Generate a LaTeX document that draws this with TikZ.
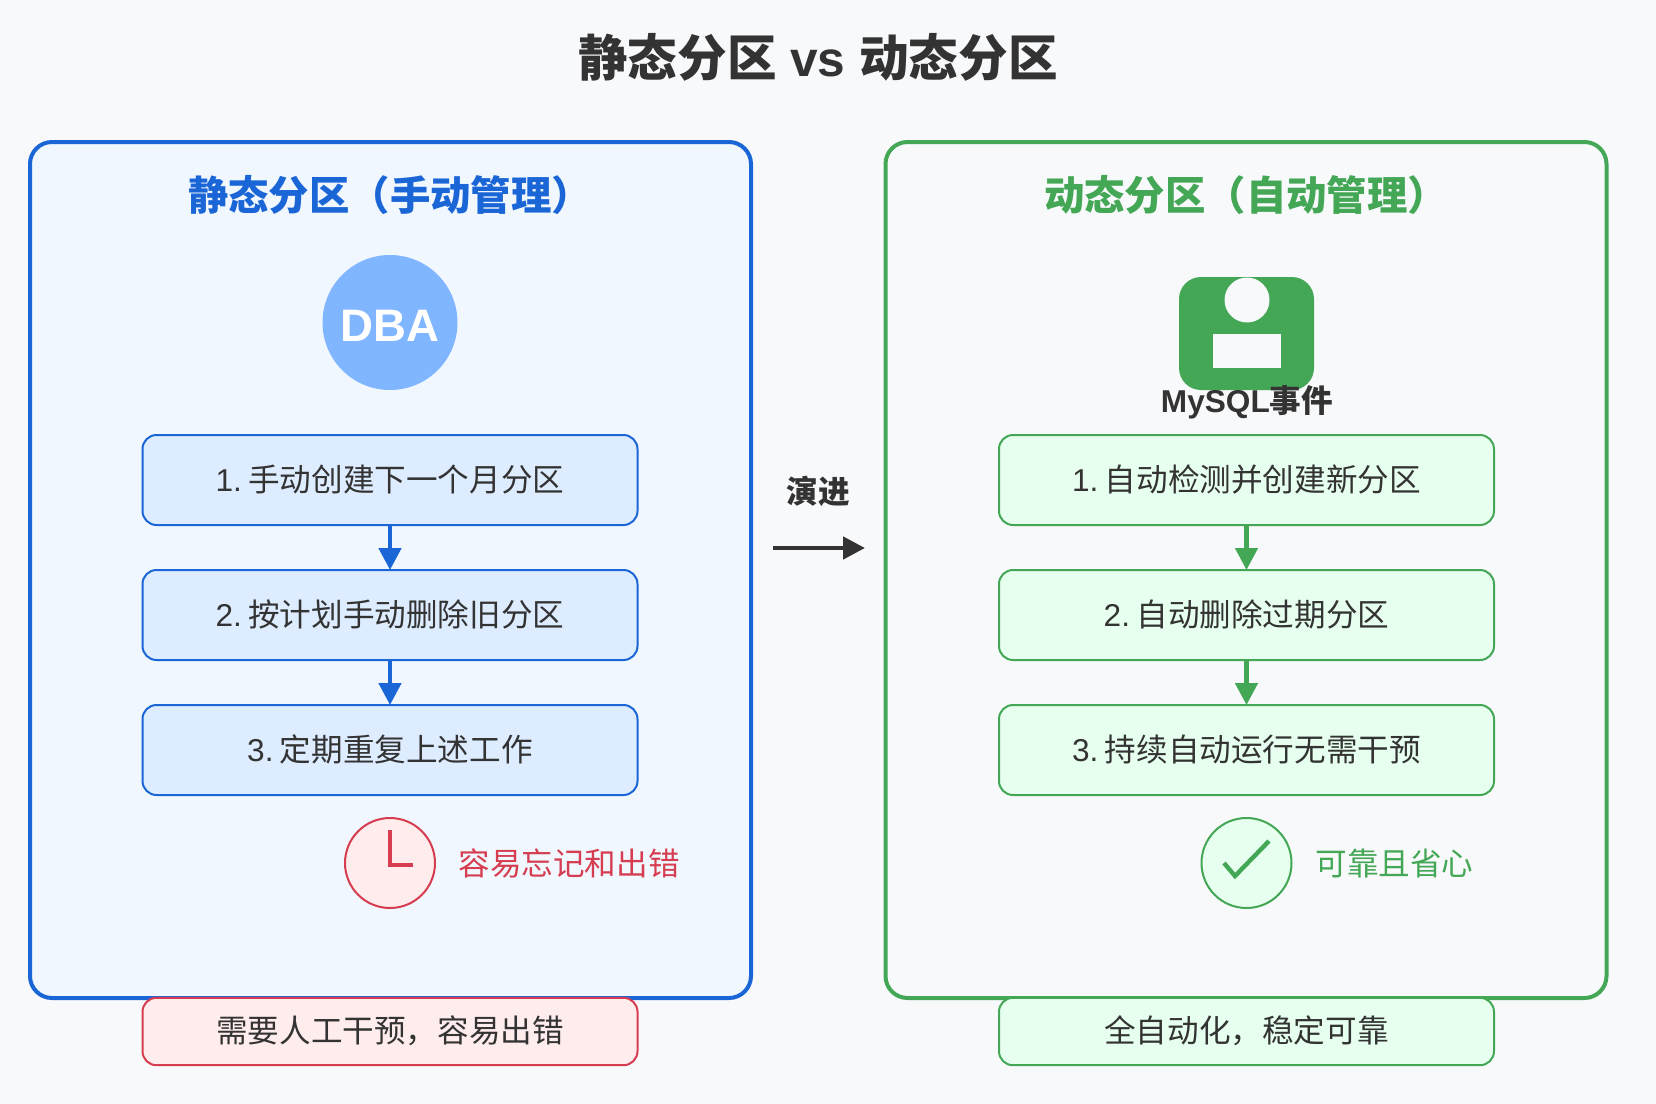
\documentclass[tikz,border=0pt]{standalone}
\usepackage{fontspec}
\usetikzlibrary{arrows.meta}
\setmainfont{Liberation Sans}
\newfontfamily\cjk{Noto Sans CJK SC}
\newcommand{\cj}[1]{{\cjk #1}}
\newcommand{\stepno}[1]{#1.\kern3.2pt}
\definecolor{bgc}{HTML}{F8F9FB}
\definecolor{blu}{HTML}{1B66D6}
\definecolor{blufill}{HTML}{F0F7FF}
\definecolor{bluebox}{HTML}{DDECFF}
\definecolor{dbac}{HTML}{80B5FF}
\definecolor{grn}{HTML}{43A755}
\definecolor{grnfill}{HTML}{E6FFEE}
\definecolor{redc}{HTML}{D63D50}
\definecolor{redfill}{HTML}{FFECEC}
\definecolor{txt}{HTML}{333333}
\tikzset{
  x=0.5pt,y=-0.5pt,
  panel/.style={draw=#1,line width=2pt,rounded corners=11pt,minimum width=360.5pt,minimum height=428pt,inner sep=0pt},
  pbox/.style n args={2}{draw=#1,fill=#2,line width=1pt,rounded corners=7pt,minimum width=247.5pt,inner sep=0pt,outer sep=0pt,text=txt,text height=13.7pt,text depth=2.3pt,font=\fontsize{15.8}{18}\selectfont},
  stepbox/.style n args={2}{pbox={#1}{#2},minimum height=45pt},
  notebox/.style n args={2}{pbox={#1}{#2},minimum height=33.7pt},
  flow/.style={draw=#1,line width=2.35pt,-{Triangle[length=11pt,width=11pt,fill=#1]}},
  paneltitle/.style={font=\fontsize{20.2}{24}\selectfont\bfseries},
  remark/.style={anchor=west,inner sep=0pt,font=\fontsize{15.8}{18}\selectfont},
}
\begin{document}
\begin{tikzpicture}
\useasboundingbox (0,0) rectangle (1656,1104);
\fill[bgc] (0,0) rectangle (1656,1104);

\node[inner sep=0pt,text=txt,font=\fontsize{24.8}{28}\selectfont\bfseries] (title) at (818,57) {\cj{静态分区} vs \cj{动态分区}};

% left panel
\node[panel=blu,fill=blufill] (lp) at (390.5,570) {};
\node[paneltitle,text=blu,inner sep=0pt] (lt) at (390,195) {\cj{静态分区（手动管理）}};
\node[circle,fill=dbac,minimum size=67.5pt,inner sep=0pt,text=white,text height=18.5pt,text depth=0pt,font=\fontsize{22.8}{26}\selectfont\bfseries] (dba) at (390,322.5) {DBA};
\node[stepbox={blu}{bluebox}] (l1) at (390,480) {\stepno{1}\cj{手动创建下一个月分区}};
\node[stepbox={blu}{bluebox}] (l2) at (390,615) {\stepno{2}\cj{按计划手动删除旧分区}};
\node[stepbox={blu}{bluebox}] (l3) at (390,750) {\stepno{3}\cj{定期重复上述工作}};
\draw[flow=blu] (l1) -- (l2);
\draw[flow=blu] (l2) -- (l3);
\node[circle,draw=redc,fill=redfill,line width=1pt,minimum size=90pt*0.5,inner sep=0pt] (clock) at (390,863) {};
\draw[redc,line width=2.3pt] (390,830) -- (390,865) -- (413,865);
\node[remark,text=redc] (lr) at (458,863.5) {\cj{容易忘记和出错}};
\node[notebox={redc}{redfill}] (ln) at (390,1031.5) {\cj{需要人工干预，容易出错}};

% right panel
\node[panel=grn] (rp) at (1246,570) {};
\node[paneltitle,text=grn,inner sep=0pt] (rt) at (1246,195) {\cj{动态分区（自动管理）}};
\fill[grn,rounded corners=11pt] (1179,277) rectangle (1314,390);
\fill[bgc] (1247,300) circle (22.5);
\fill[bgc] (1213,334) rectangle (1281,368);
\node[inner sep=0pt,text=txt,font=\fontsize{15.8}{18}\selectfont\bfseries] (mysql) at (1247,402) {MySQL\cj{事件}};
\node[stepbox={grn}{grnfill}] (r1) at (1246.5,480) {\stepno{1}\cj{自动检测并创建新分区}};
\node[stepbox={grn}{grnfill}] (r2) at (1246.5,615) {\stepno{2}\cj{自动删除过期分区}};
\node[stepbox={grn}{grnfill}] (r3) at (1246.5,750) {\stepno{3}\cj{持续自动运行无需干预}};
\draw[flow=grn] (r1) -- (r2);
\draw[flow=grn] (r2) -- (r3);
\node[circle,draw=grn,fill=grnfill,line width=1pt,minimum size=90pt*0.5,inner sep=0pt] (check) at (1246.5,863) {};
\draw[grn,line width=2.2pt] (1224,863) -- (1235,876) -- (1269,841);
\node[remark,text=grn] (rr) at (1315,863.5) {\cj{可靠且省心}};
\node[notebox={grn}{grnfill}] (rn) at (1246.5,1031.5) {\cj{全自动化，稳定可靠}};

% evolution arrow
\node[inner sep=0pt,text=txt,font=\fontsize{15.8}{18}\selectfont\bfseries] (ev) at (818.5,491) {\cj{演进}};
\coordinate (as) at (773,548);
\coordinate (ae) at (865,548);
\draw[flow=txt] (as) -- (ae);
\end{tikzpicture}
\end{document}
